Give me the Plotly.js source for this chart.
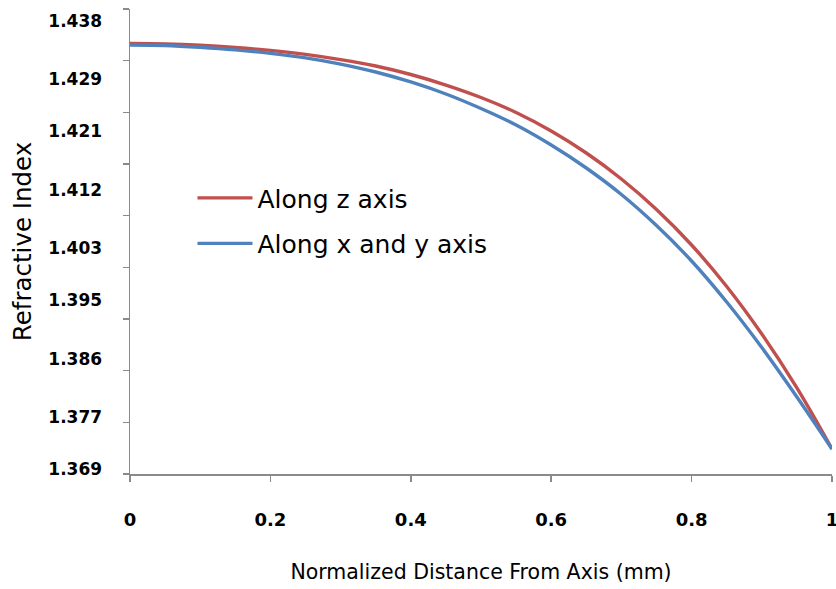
<!DOCTYPE html>
<html>
<head>
<meta charset="utf-8">
<script src="https://cdn.plot.ly/plotly-3.0.1.min.js"></script>
<style>html,body{margin:0;padding:0;background:#fff;}#chart{width:836px;height:589px;}</style>
</head>
<body>
<div id="chart"></div>
<script>
// Normalized distance from axis (mm)
const distance = [0, 0.05, 0.1, 0.15, 0.2, 0.25, 0.3, 0.35, 0.4, 0.45, 0.5,
                  0.55, 0.6, 0.65, 0.7, 0.75, 0.8, 0.85, 0.9, 0.95, 1];
// Refractive index along z axis
const alongZ = [1.43453, 1.43446, 1.43426, 1.43393, 1.43347, 1.43286, 1.43205,
                1.43107, 1.42976, 1.42814, 1.42622, 1.42391, 1.42106, 1.41767,
                1.41367, 1.40897, 1.40350, 1.39711, 1.38979, 1.38148, 1.37208];
// Refractive index along x and y axis
const alongXY = [1.43430, 1.43423, 1.43395, 1.43355, 1.43301, 1.43232, 1.43136,
                 1.43015, 1.42861, 1.42676, 1.42452, 1.42198, 1.41890, 1.41536,
                 1.41128, 1.40650, 1.40104, 1.39472, 1.38771, 1.38009, 1.37208];
const seriesNames = ["Along z axis", "Along x and y axis"];
const yTickVals = [1.438, 1.429, 1.421, 1.412, 1.403, 1.395, 1.386, 1.377, 1.369];
const yTickText = ["1.438", "1.429", "1.421", "1.412", "1.403", "1.395", "1.386", "1.377", "1.369"];
const xTickVals = [0, 0.2, 0.4, 0.6, 0.8, 1];
const xTickText = ["0", "0.2", "0.4", "0.6", "0.8", "1"];

const yRange = [1.36823, 1.43985];
const axisColor = "#8a8a8a";
const fontFam = "DejaVu Sans, sans-serif";

const traces = [
  {x: distance, y: alongZ, name: seriesNames[0], mode: "lines", type: "scatter",
   line: {color: "#C0504D", width: 3.4, shape: "spline", smoothing: 1}, legendgroup: "a"},
  {x: distance, y: alongXY, name: seriesNames[1], mode: "lines", type: "scatter",
   line: {color: "#4F81BD", width: 3.4, shape: "spline", smoothing: 1}, legendgroup: "b"}
];

const layout = {
  width: 836, height: 589,
  margin: {l: 130, r: 4, t: 9, b: 115},
  paper_bgcolor: "#ffffff", plot_bgcolor: "#ffffff",
  showlegend: true,
  legend: {x: 0.089, y: 0.545, xanchor: "left", yanchor: "middle",
           bgcolor: "rgba(0,0,0,0)", borderwidth: 0,
           font: {family: fontFam, size: 25, color: "#000"},
           itemwidth: 55, tracegroupgap: 10, traceorder: "grouped"},
  xaxis: {
    range: [0, 1], tickmode: "array", tickvals: xTickVals, ticktext: xTickText,
    showgrid: false, zeroline: false, showline: true, linecolor: axisColor, linewidth: 1.5,
    ticks: "outside", ticklen: 6, tickcolor: axisColor, tickwidth: 1.5,
    ticklabelstandoff: 23, ticklabeloverflow: "allow",
    tickfont: {family: fontFam, size: 18, color: "#000", weight: "bold"},
    title: {text: "Normalized Distance From Axis (mm)", standoff: 35,
            font: {family: fontFam, size: 20.5, color: "#000"}},
    fixedrange: true, automargin: false
  },
  yaxis: {
    range: yRange, tickmode: "array", tickvals: yTickVals, ticktext: yTickText,
    showgrid: false, zeroline: false, showline: true, linecolor: axisColor, linewidth: 1.5,
    ticks: "", ticklabelstandoff: 23,
    minor: {tickmode: "linear", tick0: yRange[0], dtick: (yRange[1] - yRange[0]) / 9,
            ticks: "outside", ticklen: 6, tickcolor: axisColor, tickwidth: 1.5, showgrid: false},
    tickfont: {family: fontFam, size: 17, color: "#000", weight: "bold"},
    title: {text: "Refractive Index", standoff: 9,
            font: {family: fontFam, size: 24.5, color: "#000"}},
    fixedrange: true, automargin: false
  }
};

Plotly.newPlot("chart", traces, layout, {displayModeBar: false, staticPlot: true});
</script>
</body>
</html>
